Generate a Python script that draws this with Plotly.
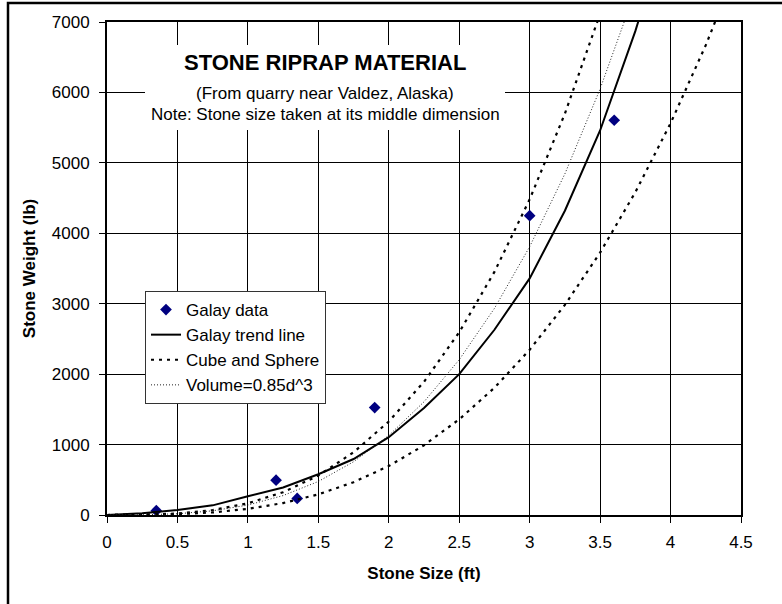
import plotly.graph_objects as go

# ---- data ----
data_size = [0.35, 1.2, 1.35, 1.9, 3.0, 3.6]
data_weight = [62, 495, 235, 1525, 4250, 5605]

curve_size = [0, 0.25, 0.5, 0.75, 1.0, 1.25, 1.5, 1.75, 2.0, 2.25, 2.5,
              2.75, 3.0, 3.25, 3.5, 3.75, 4.0, 4.25, 4.5]
trend_weight = [0, 25, 71, 137, 265, 390, 578, 795, 1105, 1520, 2000,
                2630, 3360, 4320, 5460, 6870, 8500, None, None]
cube_weight = [0, 2.6, 20.8, 70, 166, 324, 560, 890, 1328, 1891, 2594,
               3452, 4482, 5699, 7117, None, None, None, None]
sphere_weight = [0, 1.4, 10.9, 36.7, 86.9, 169.7, 293, 466, 695, 990, 1358,
                 1807, 2346, 2983, 3726, 4583, 5562, 6671, 7919]
volume_weight = [0, 2.2, 17.6, 59.5, 141, 276, 476, 756, 1129, 1607, 2205,
                 2934, 3810, 4844, 6050, 7441, None, None, None]

x_ticks = [0, 0.5, 1, 1.5, 2, 2.5, 3, 3.5, 4, 4.5]
y_ticks = [0, 1000, 2000, 3000, 4000, 5000, 6000, 7000]

FONT = "Liberation Sans, Arial, sans-serif"

fig = go.Figure()
fig.add_trace(go.Scatter(x=data_size, y=data_weight, mode="markers", name="Galay data",
                         marker=dict(symbol="diamond", size=9, color="#000080")))
fig.add_trace(go.Scatter(x=curve_size, y=trend_weight, mode="lines", name="Galay trend line",
                         line=dict(color="black", width=2)))
fig.add_trace(go.Scatter(x=curve_size, y=cube_weight, mode="lines", name="Cube and Sphere",
                         line=dict(color="black", width=2.2, dash="3px,5px")))
fig.add_trace(go.Scatter(x=curve_size, y=sphere_weight, mode="lines", name="Cube and Sphere",
                         line=dict(color="black", width=2.2, dash="3px,5px"), showlegend=False))
fig.add_trace(go.Scatter(x=curve_size, y=volume_weight, mode="lines", name="Volume=0.85d^3",
                         line=dict(color="#222", width=1, dash="1px,2px")))

W, H = 782, 604
L, R, T, B = 107, 41, 22, 89
pw, ph = W - L - R, H - T - B

def px2paper(x, y):
    return (x - L) / pw, (H - B - y) / ph

shapes = []
# outer frame drawn as one open path (left and top edges only)
fx0, fy0 = px2paper(8, 3)
fx1, fy1 = px2paper(W + 5, H + 5)
shapes.append(dict(type="path", xref="paper", yref="paper",
                   path=f"M {fx0} {fy1} L {fx0} {fy0} L {fx1} {fy0}",
                   line=dict(color="black", width=2.5), layer="above"))
# white box behind the title
bx0, by0 = px2paper(145, 45)
bx1, by1 = px2paper(505, 130)
shapes.append(dict(type="rect", xref="paper", yref="paper", x0=bx0, y0=by1, x1=bx1, y1=by0,
                   line=dict(width=0), fillcolor="white", layer="above"))

annotations = []
for txt, ypx, size, bold in [("STONE RIPRAP MATERIAL", 63, 22, True),
                             ("(From quarry near Valdez, Alaska)", 93, 17, False),
                             ("Note: Stone size taken at its middle dimension", 114, 17, False)]:
    ax, ay = px2paper(325, ypx)
    annotations.append(dict(xref="paper", yref="paper", x=ax, y=ay, xanchor="center", yanchor="middle",
                            text=f"<b>{txt}</b>" if bold else txt, showarrow=False,
                            font=dict(family=FONT, size=size, color="black")))

lx, ly = px2paper(145, 291)

fig.update_layout(
    width=W, height=H,
    margin=dict(l=L, r=R, t=T, b=B),
    paper_bgcolor="white", plot_bgcolor="white",
    font=dict(family=FONT, size=17, color="black"),
    showlegend=True,
    legend=dict(x=lx, y=ly, xanchor="left", yanchor="top", bgcolor="white",
                bordercolor="#333", borderwidth=1, tracegroupgap=0,
                font=dict(size=17, family=FONT)),
    shapes=shapes, annotations=annotations,
    xaxis=dict(range=[0, 4.5], tickvals=x_ticks, ticktext=[f"{v:g}" for v in x_ticks],
               showgrid=True, gridcolor="black", gridwidth=1, zeroline=False,
               showline=True, linecolor="black", linewidth=2, mirror=True,
               ticks="outside", ticklen=6, tickcolor="black", tickwidth=1,
               ticklabelstandoff=5,
               title=dict(text="<b>Stone Size (ft)</b>", font=dict(size=17, family=FONT), standoff=16)),
    yaxis=dict(range=[0, 7000], tickvals=y_ticks, ticktext=[str(v) for v in y_ticks],
               showgrid=True, gridcolor="black", gridwidth=1, zeroline=False,
               showline=True, linecolor="black", linewidth=2, mirror=True,
               ticks="outside", ticklen=6, tickcolor="black", tickwidth=1,
               ticklabelstandoff=6,
               title=dict(text="<b>Stone Weight (lb)</b>", font=dict(size=17, family=FONT), standoff=12)),
)

fig.write_html("out.html", config={"displayModeBar": False},
               post_script=("document.documentElement.style.margin='0';"
                            "document.documentElement.style.overflow='hidden';"
                            "document.body.style.margin='0';"
                            "document.body.style.overflow='hidden';"))
